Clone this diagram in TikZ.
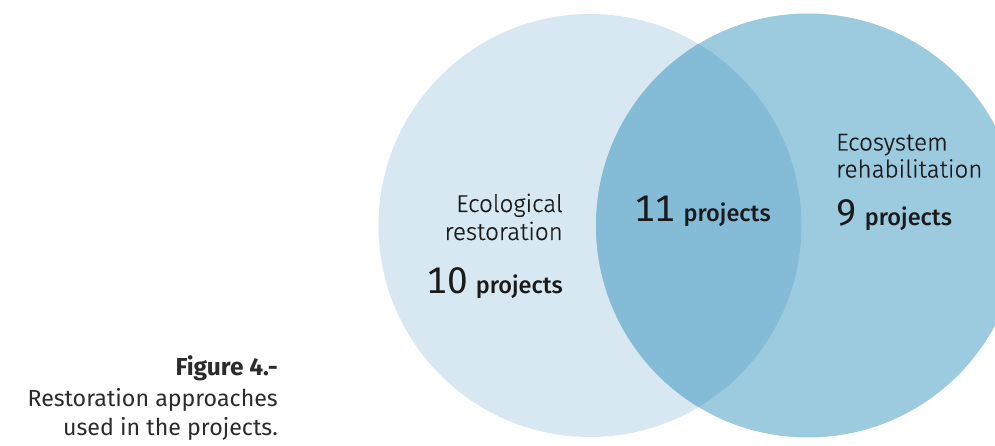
\documentclass[tikz,border=0pt]{standalone}
\usepackage{fontspec}
\setmainfont{Fira Sans Light}[FakeBold=0.5]
\newfontfamily\firareg{Fira Sans}
\newfontfamily\firamed{Fira Sans Medium}
\newfontfamily\firanum[Numbers=Monospaced]{Fira Sans}
\newfontfamily\firabold{Fira Sans Bold}
\definecolor{leftc}{HTML}{D8E8F2}
\definecolor{rightc}{HTML}{9CCBDF}
\definecolor{midc}{HTML}{84BCD7}
\definecolor{txt}{HTML}{1A1A1A}
\definecolor{captxt}{HTML}{2B2B2B}
\begin{document}
\begin{tikzpicture}[x=1pt,y=-1pt,
  lbl/.style={inner sep=0pt,text=txt,font=\fontsize{24.2}{27}\selectfont},
  captext/.style={inner sep=0pt,text=captxt,font=\firareg\fontsize{23.2}{30}\selectfont}]
\useasboundingbox (0,0) rectangle (995,446);
\begin{scope}
\clip (0,0) rectangle (995,446);
\fill[leftc] (590,225.5) circle[radius=211.5];
\fill[rightc] (808,225.5) circle[radius=212];
\begin{scope}
\clip (590,225.5) circle[radius=211.5];
\fill[midc] (808,225.5) circle[radius=212];
\end{scope}
\end{scope}
\newcommand{\bignum}[1]{{\firanum\fontsize{37}{37}\selectfont #1}}
\newcommand{\proj}{{\firamed\fontsize{23.5}{23}\selectfont projects}}
\node[lbl,anchor=base east] (eco1) at (563,212) {Ecological};
\node[lbl,anchor=base east] (eco2) at (563,240) {restoration};
\node[lbl,anchor=base east] (n10) at (563,293) {\bignum{10}\hspace{8pt}\proj};
\node[lbl,anchor=base west] (n11) at (634,222) {\bignum{11}\hspace{8pt}\proj};
\node[lbl,anchor=base west] (es1) at (836,150.5) {Ecosystem};
\node[lbl,anchor=base west] (es2) at (836,177.5) {rehabilitation};
\node[lbl,anchor=base west] (n9) at (836,226) {\bignum{9}\hspace{8pt}\proj};
\node[captext,anchor=base east] (fig) at (278,375.5) {{\firabold\fontsize{24.5}{30}\selectfont Figure 4.-}};
\node[captext,anchor=base east] (c1) at (278,406) {Restoration approaches};
\node[captext,anchor=base east] (c2) at (278,435.5) {used in the projects.};
\end{tikzpicture}
\end{document}
